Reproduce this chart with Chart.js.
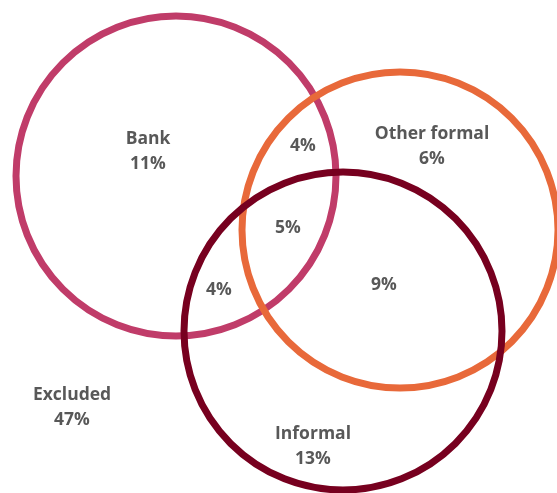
<!DOCTYPE html>
<html>
<head>
<meta charset="utf-8">
<script src="https://cdn.jsdelivr.net/npm/chart.js@4"></script>
<style>
  html, body { margin: 0; padding: 0; background: #fff; }
  #wrap { width: 557px; height: 493px; position: relative; }
</style>
</head>
<body>
<div id="wrap"><canvas id="venn"></canvas></div>
<script>
// sets: centre and radius in plot units (plot is 557 x 493 units, 1 unit = 1px)
let setNames = ['Bank', 'Other formal', 'Informal'];
let setX = [176, 400, 343];
let setY = [176, 230, 331];
let setR = [160, 158, 159];
let setColors = ['#C03C69', '#E8693A', '#77001F'];

// region shares (%) and where their labels sit
let regionNames = ['Bank', 'Other formal', 'Informal', '', '', '', '', 'Excluded'];
let regionValues = [11, 6, 13, 4, 5, 4, 9, 47];
let regionX = [148, 432, 313, 303, 288, 219, 384, 72];
let regionY = [152, 147, 447, 146, 228, 290, 285, 408];

let datasets = setNames.map((name, i) => ({
  label: name,
  data: [{x: setX[i], y: setY[i], r: setR[i]}],
  backgroundColor: 'rgba(0,0,0,0)',
  borderColor: setColors[i],
  borderWidth: 7,
  hoverBorderWidth: 7,
  clip: false,
  order: setNames.length - i
}));

let regionLabels = {
  id: 'regionLabels',
  afterDatasetsDraw(chart) {
    let c = chart.ctx;
    let sx = chart.scales.x, sy = chart.scales.y;
    c.save();
    c.fillStyle = '#585858';
    c.font = '700 17.5px "Open Sans"';
    c.textAlign = 'center';
    c.textBaseline = 'middle';
    regionValues.forEach((v, i) => {
      let px = sx.getPixelForValue(regionX[i]);
      let py = sy.getPixelForValue(regionY[i]);
      if (regionNames[i]) {
        c.fillText(regionNames[i], px, py - 12.5);
        c.fillText(v + '%', px, py + 12.5);
      } else {
        c.fillText(v + '%', px, py);
      }
    });
    c.restore();
  }
};

new Chart(document.getElementById('venn').getContext('2d'), {
  type: 'bubble',
  data: { datasets: datasets },
  options: {
    responsive: true,
    maintainAspectRatio: false,
    animation: false,
    events: [],
    // keep the plot area on the full canvas so units stay 1:1 with pixels
    layout: { padding: 0, autoPadding: false },
    scales: {
      x: { type: 'linear', min: 0, max: 557, display: false },
      y: { type: 'linear', min: 0, max: 493, reverse: true, display: false }
    },
    plugins: {
      legend: { display: false },
      tooltip: { enabled: false }
    }
  },
  plugins: [regionLabels]
});
</script>
</body>
</html>
